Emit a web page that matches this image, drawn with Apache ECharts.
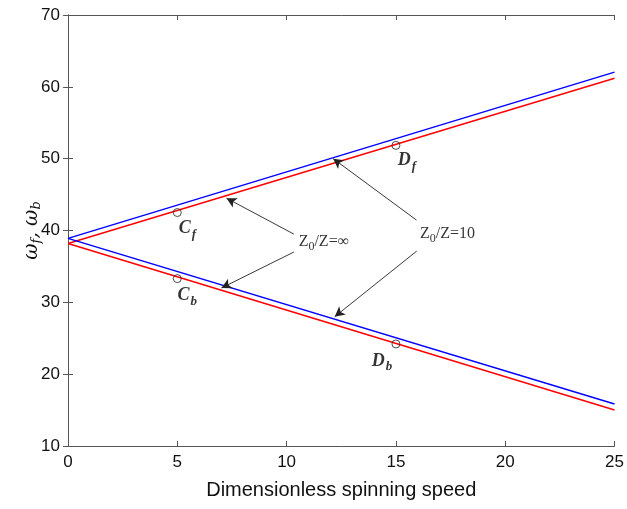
<!DOCTYPE html>
<html>
<head>
<meta charset="utf-8">
<script src="https://cdn.jsdelivr.net/npm/echarts@6/dist/echarts.min.js"></script>
<style>
  html, body { margin: 0; padding: 0; background: #fff; }
  #chart { width: 627px; height: 509px; }
</style>
</head>
<body>
<div id="chart"></div>
<script>
// spinning speed at the ends of each line
const speed = [0, 25]
const fwdInf = [38.9, 62.05]   // blue, Z0/Z = inf
const fwdTen = [38.2, 61.2]    // red, Z0/Z = 10
const bwdInf = [38.9, 15.85]
const bwdTen = [38.2, 15.0]

// marked points C_f, C_b, D_f, D_b
const pointNames = ['C|f', 'C|b', 'D|f', 'D|b']
const pointX = [5, 5, 15, 15]
const pointY = [42.5, 33.3, 51.85, 24.2]
const pointOffset = [[10, 16], [10, 17], [11, 15], [-14, 17]]

// annotation arrows [fromX, fromY, toX, toY]
const arrows = [
  [10.33, 39.5, 7.25, 44.5],
  [10.33, 37.0, 7.02, 32.0],
  [15.94, 41.45, 12.13, 50.0],
  [15.95, 37.13, 12.2, 28.0],
]
const notes = [
  { x: 10.55, y: 38.4, text: '{t|Z}{s|0}{t|/Z=∞}' },
  { x: 16.1, y: 39.6, text: '{t|Z}{s|0}{t|/Z=10}' },
]

const chart = echarts.init(document.getElementById('chart'))

const axisColor = '#555'
const tickFont = { color: '#111', fontFamily: 'Liberation Sans, Arial', fontSize: 17 }

const lineSeries = (data, color) => ({
  type: 'line',
  data: speed.map((s, i) => [s, data[i]]),
  showSymbol: false,
  lineStyle: { color: color, width: 1.5 },
  itemStyle: { color: color },
  animation: false,
  silent: true,
})

const option = {
  backgroundColor: '#fff',
  animation: false,
  grid: { left: 68, right: 12, top: 15, bottom: 63 },
  xAxis: [
    {
      type: 'value',
      min: 0, max: 25, interval: 5,
      name: 'Dimensionless spinning speed',
      nameLocation: 'middle',
      nameGap: 34,
      nameMoveOverlap: false,
      nameTextStyle: { color: '#111', fontFamily: 'Liberation Sans, Arial', fontSize: 20 },
      axisLine: { show: true, lineStyle: { color: axisColor, width: 1 } },
      axisTick: { show: true, inside: true, length: 5, lineStyle: { color: axisColor } },
      axisLabel: { ...tickFont, margin: 8 },
      splitLine: { show: false },
    },
    {
      type: 'value',
      position: 'top',
      min: 0, max: 25, interval: 5,
      axisLine: { show: true, lineStyle: { color: axisColor, width: 1 } },
      axisTick: { show: true, inside: true, length: 5, lineStyle: { color: axisColor } },
      axisLabel: { show: false },
      splitLine: { show: false },
    },
  ],
  yAxis: [
    {
      type: 'value',
      min: 10, max: 70, interval: 10,
      name: '{g|ω}{s|f}{g|, ω}{s|b}',
      nameLocation: 'middle',
      nameGap: 25,
      nameMoveOverlap: false,
      nameRotate: 90,
      nameTextStyle: {
        rich: {
          g: { fontFamily: 'DejaVu Serif', fontStyle: 'italic', fontSize: 20, color: '#111' },
          s: { fontFamily: 'DejaVu Serif', fontStyle: 'italic', fontSize: 13, color: '#111', verticalAlign: 'bottom', padding: [10, 0, 0, 0] },
        },
      },
      axisLine: { show: true, lineStyle: { color: axisColor, width: 1 } },
      axisTick: { show: true, inside: true, length: 5, lineStyle: { color: axisColor } },
      axisLabel: { ...tickFont, margin: 8 },
      splitLine: { show: false },
    },
    {
      type: 'value',
      position: 'right',
      min: 10, max: 70, interval: 10,
      axisLine: { show: true, lineStyle: { color: axisColor, width: 1 } },
      axisTick: { show: true, inside: true, length: 5, lineStyle: { color: axisColor } },
      axisLabel: { show: false },
      splitLine: { show: false },
    },
  ],
  series: [
    lineSeries(fwdTen, '#ff0000'),
    lineSeries(bwdTen, '#ff0000'),
    lineSeries(fwdInf, '#0000ff'),
    lineSeries(bwdInf, '#0000ff'),
    {
      type: 'scatter',
      data: pointX.map((x, i) => ({
        value: [x, pointY[i]],
        label: {
          show: true,
          position: 'inside',
          offset: pointOffset[i],
          formatter: '{m|' + pointNames[i].split('|')[0] + '}{s|' + pointNames[i].split('|')[1] + '}',
        },
      })),
      symbol: 'circle',
      symbolSize: 8,
      itemStyle: { color: 'rgba(0,0,0,0)', borderColor: '#222', borderWidth: 1 },
      label: {
        rich: {
          m: { fontFamily: 'Liberation Serif', fontStyle: 'italic', fontWeight: 'bold', fontSize: 18, color: '#000' },
          s: { fontFamily: 'Liberation Serif', fontStyle: 'italic', fontWeight: 'bold', fontSize: 13, color: '#000', padding: [12, 0, 0, 1] },
        },
      },
      silent: true,
      z: 5,
    },
    {
      type: 'scatter',
      data: notes.map(n => ({
        value: [n.x, n.y],
        label: { show: true, position: 'right', distance: 0, formatter: n.text },
      })),
      symbolSize: 0,
      label: {
        rich: {
          t: { fontFamily: 'Liberation Serif', fontSize: 16, color: '#000' },
          s: { fontFamily: 'Liberation Serif', fontSize: 12, color: '#000', padding: [10, 0, 0, 0] },
        },
      },
      silent: true,
      markLine: {
        silent: true,
        animation: false,
        symbol: ['none', 'arrow'],
        symbolSize: [8, 10],
        label: { show: false },
        lineStyle: { color: '#222', width: 0.9, type: 'solid' },
        data: arrows.map(a => [
          { coord: [a[0], a[1]] },
          { coord: [a[2], a[3]] },
        ]),
      },
    },
  ],
}

chart.setOption(option)
</script>
</body>
</html>
